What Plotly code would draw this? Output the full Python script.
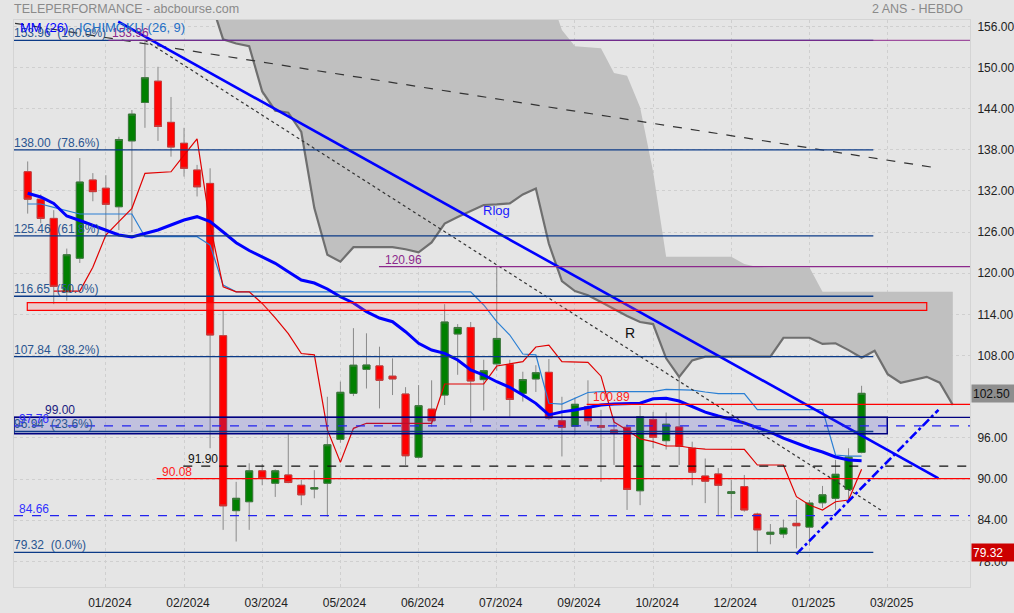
import plotly.graph_objects as go

# ---------------- data ----------------
candle_idx = list(range(65))
opens  = [134.8,130.8,128.0,117.3,122.2,133.6,132.4,129.7,139.3,144.9,148.0,142.0,138.95,135.05,133.1,110.9,
          85.4,86.7,91.2,89.4,90.6,89.1,88.55,89.4,95.8,102.5,106.0,106.5,105.0,102.4,93.2,100.2,
          102.25,111.15,112.1,104.5,106.8,106.7,102.5,104.6,105.56,98.5,97.7,100.56,97.8,97.15,97.55,88.3,
          98.7,95.6,97.6,94.5,90.45,90.75,87.9,88.9,84.9,81.95,82.0,83.55,83.0,86.55,87.2,88.5,93.9]
highs  = [136.3,131.5,129.2,123.6,136.8,134.6,134.3,139.9,143.8,153.96,150.1,145.7,141.2,135.8,135.3,114.5,
          89.6,92.3,92.2,91.4,96.7,89.9,91.3,102.0,104.2,112.0,111.25,109.3,107.6,103.4,103.7,104.4,
          115.5,112.6,112.9,107.4,120.96,107.4,105.65,106.6,107.5,102.0,101.9,104.4,100.1,99.1,98.0,100.65,
          99.8,99.7,104.7,95.45,93.0,91.6,89.9,90.6,85.1,83.45,84.1,86.95,86.95,89.0,92.8,94.5,103.6]
lows   = [128.7,127.3,115.5,116.0,121.5,130.5,125.3,126.3,126.0,141.2,139.3,137.0,134.1,131.2,94.5,82.6,
          80.9,82.6,89.1,87.4,89.4,86.2,87.2,84.5,95.3,102.1,103.2,100.3,102.25,92.05,93.0,97.6,
          100.8,105.2,98.2,100.0,105.8,99.1,101.3,102.7,98.6,93.3,96.4,97.8,89.6,92.05,85.5,86.2,
          94.5,94.3,92.05,89.1,86.5,84.6,84.3,85.25,79.32,80.5,81.4,79.9,80.3,85.8,85.5,86.95,93.75]
closes = [130.8,128.0,118.1,122.7,133.3,131.9,130.05,139.5,143.2,148.5,141.4,138.4,135.3,132.6,111.0,86.1,
          87.2,91.2,90.1,91.2,89.5,87.7,88.75,95.0,102.65,106.6,106.63,104.4,104.6,93.4,100.7,98.5,
          112.9,112.1,104.3,105.8,110.5,101.6,104.5,105.5,98.9,97.55,100.9,98.5,97.55,96.75,88.5,99.1,
          96.1,98.0,94.8,91.0,89.7,89.1,88.15,85.5,82.6,82.25,82.85,83.2,86.5,87.7,90.7,93.2,102.5]

mm26 = [131.66,131.12,130.17,128.35,127.69,126.96,126.23,125.58,125.29,125.83,126.31,127.04,127.76,128.25,
        127.52,126.02,124.46,123.32,122.37,121.45,120.23,119.02,118.58,117.71,116.58,115.67,114.40,113.48,
        112.94,111.48,109.79,108.81,108.33,107.36,105.90,105.17,104.19,103.38,102.25,101.04,99.35,99.80,
        100.06,100.42,100.80,100.94,101.00,101.06,101.70,101.77,101.38,100.58,99.77,99.19,98.68,98.17,
        97.51,96.86,95.98,95.26,94.53,93.95,93.22,92.78,92.68]

kijun = [130.1,130.1,129.6,129.1,128.64,128.64,128.64,128.64,128.64,125.33,125.33,125.33,125.33,125.33,
         124.12,118.27,117.3,117.3,117.3,117.3,117.3,117.3,117.3,117.3,117.3,117.3,117.3,117.3,117.3,
         117.3,117.3,117.3,117.3,117.3,117.3,115.38,112.94,111.0,108.23,108.1,101.05,100.94,101.8,102.62,
         102.74,102.74,102.74,102.74,102.74,103.09,103.09,102.98,102.69,102.47,102.47,102.47,100.14,100.14,
         100.14,100.14,100.14,100.14,93.51,93.36,93.36]

tenkan_idx = list(range(2, 65))
tenkan = [117.41,117.41,117.41,120.87,125.58,127.52,129.47,134.57,134.72,134.80,137.24,139.60,127.04,118.04,
          117.30,117.30,115.60,113.50,111.20,108.30,108.10,97.20,92.44,97.40,98.13,98.13,98.13,98.13,98.13,
          98.13,103.86,103.86,103.86,103.86,106.48,106.77,107.11,109.25,109.54,107.11,107.07,107.02,105.00,
          98.32,97.15,95.87,95.46,94.82,94.82,94.53,94.38,94.34,94.34,94.34,92.05,92.05,92.05,87.43,86.22,
          85.49,86.70,86.95,91.42]

cloud_idx = list(range(14, 72))
span_dark = [160.0,154.1,153.5,153.1,146.5,143.7,143.4,140.6,129.5,122.7,121.7,123.8,123.8,123.8,123.8,
             123.5,123.05,124.5,127.25,128.2,129.1,129.95,130.05,130.2,131.5,132.36,124.3,118.85,117.4,
             116.8,115.8,114.8,113.77,112.9,112.6,107.6,104.9,107.3,107.84,107.84,107.84,107.84,107.84,
             107.84,110.6,110.6,110.6,109.7,109.8,108.8,107.7,108.7,105.3,104.05,104.5,104.9,104.05,100.8]
span_light = [175.0]*26 + [161.0,155.45,153.1,153.0,152.8,149.2,148.8,144.2,134.8,122.4,122.4,122.4,
              122.4,122.4,122.4,121.35,120.9,120.85,120.85,120.85,120.85,117.3,117.3,117.3,117.3,117.3,
              117.3,117.3,117.3,117.3,117.3,117.3]

# trend lines (index, price)
rlog_x, rlog_y = [6.95, 69.9], [156.67, 90.11]
dotted_x, dotted_y = [9.0, 65.6], [153.96, 85.34]
longdash_x, longdash_y = [-0.97, 69.96], [156.44, 135.3]
support_x, support_y = [59.0, 69.9], [79.07, 100.1]

fib_vals = [153.96, 138.00, 125.46, 116.65, 107.84, 96.94, 79.32]
fib_pcts = ["100.0%", "78.6%", "61.8%", "50.0%", "38.2%", "23.6%", "0.0%"]

x_tickvals = [6, 12, 18, 24, 30, 36, 42, 48, 54, 60, 66]
x_ticktext = ["01/2024", "02/2024", "03/2024", "05/2024", "06/2024", "07/2024",
              "09/2024", "10/2024", "12/2024", "01/2025", "03/2025"]
y_tickvals = [78, 84, 90, 96, 108, 114, 120, 126, 132, 138, 144, 150, 156]

last_close = 102.50
period_low = 79.32

# ---------------- figure ----------------
XMIN, XMAX = -1.05, 72.32
YMIN, YMAX = 74.27, 156.92
FONT = "Liberation Sans, Arial, sans-serif"
BG = "#e5e5e5"

fig = go.Figure()

# Ichimoku cloud
fig.add_trace(go.Scatter(x=cloud_idx, y=span_light, mode="lines",
                         line=dict(width=0, color="#c0c0c0"), hoverinfo="skip"))
fig.add_trace(go.Scatter(x=cloud_idx, y=span_dark, mode="lines", fill="tonexty",
                         fillcolor="#c0c0c0", line=dict(width=2.2, color="#6f6f6f"),
                         hoverinfo="skip"))

# candles: wicks (gray) then bodies
fig.add_trace(go.Candlestick(
    x=candle_idx, open=opens, high=highs, low=lows, close=closes,
    increasing=dict(line=dict(color="#8a8a8a", width=1), fillcolor="#008000"),
    decreasing=dict(line=dict(color="#8a8a8a", width=1), fillcolor="#ff0000"),
    whiskerwidth=0, hoverinfo="skip"))
body_hi = [max(o, c) for o, c in zip(opens, closes)]
body_lo = [min(o, c) for o, c in zip(opens, closes)]
fig.add_trace(go.Candlestick(
    x=candle_idx, open=opens, high=body_hi, low=body_lo, close=closes,
    increasing=dict(line=dict(color="#3d7a3d", width=1), fillcolor="#008000"),
    decreasing=dict(line=dict(color="#cc3a3a", width=1), fillcolor="#ff0000"),
    whiskerwidth=0, hoverinfo="skip"))

# Ichimoku lines
fig.add_trace(go.Scatter(x=candle_idx, y=kijun, mode="lines",
                         line=dict(color="#2a7fd4", width=1.2), hoverinfo="skip"))
fig.add_trace(go.Scatter(x=tenkan_idx, y=tenkan, mode="lines",
                         line=dict(color="#e00000", width=1.2), hoverinfo="skip"))
# MM 26
fig.add_trace(go.Scatter(x=candle_idx, y=mm26, mode="lines",
                         line=dict(color="#0000ff", width=3), hoverinfo="skip"))

# trend lines
fig.add_trace(go.Scatter(x=longdash_x, y=longdash_y, mode="lines",
                         line=dict(color="#333333", width=1.2, dash="dash"), hoverinfo="skip"))
fig.add_trace(go.Scatter(x=dotted_x, y=dotted_y, mode="lines",
                         line=dict(color="#333333", width=1.2, dash="dot"), hoverinfo="skip"))
fig.add_trace(go.Scatter(x=rlog_x, y=rlog_y, mode="lines",
                         line=dict(color="#0000ff", width=2.6), hoverinfo="skip"))
fig.add_trace(go.Scatter(x=support_x, y=support_y, mode="lines",
                         line=dict(color="#0000ff", width=2.6, dash="dashdot"), hoverinfo="skip"))

shapes = []
def hline(y, x0, x1, color, width=1.2, dash="solid"):
    shapes.append(dict(type="line", xref="x", yref="y", x0=x0, x1=x1, y0=y, y1=y,
                       line=dict(color=color, width=width, dash=dash), layer="above"))

# zones
shapes.append(dict(type="rect", xref="x", yref="y", x0=XMIN, x1=65.97, y0=96.6, y1=99.0,
                   fillcolor="rgba(60,60,200,0.21)", line=dict(color="#000080", width=1.5), layer="above"))
shapes.append(dict(type="rect", xref="x", yref="y", x0=-0.03, x1=69.0, y0=114.6, y1=115.71,
                   fillcolor="rgba(255,120,120,0.22)", line=dict(color="#ff0000", width=1.2), layer="above"))

for v in fib_vals:
    hline(v, XMIN, 64.9, "#0b3a87", 1.3)
hline(153.96, 6.2, XMAX, "#8c288c", 1.0)
hline(120.96, 26.96, XMAX, "#8c288c", 1.2)
hline(99.00, XMIN, XMAX, "#000080", 1.3)
hline(97.76, XMIN, XMAX, "#2222ee", 1.3, "dash")
hline(84.66, XMIN, XMAX, "#2222ee", 1.3, "dash")
hline(91.90, 11.94, XMAX, "#111111", 1.3, "dash")
hline(100.89, 42.9, XMAX, "#ff0000", 1.3)
hline(90.08, 9.9, XMAX, "#ff0000", 1.3)

anns = []
def label(x, y, text, color, size=12, xref="x", yref="y", xanchor="left", yanchor="middle",
          yshift=7, xshift=-2, **kw):
    anns.append(dict(x=x, y=y, xref=xref, yref=yref, text=text, showarrow=False,
                     xanchor=xanchor, yanchor=yanchor, yshift=yshift, xshift=xshift,
                     font=dict(family=FONT, size=size, color=color), **kw))

for v, p in zip(fib_vals, fib_pcts):
    label(0, v, f"{v:.2f}\u00a0 ({p})", "#2a5590", xref="paper")
label(0.0055, 97.76, "97.76", "#3030ff", xref="paper")
label(0.0324, 99.00, "99.00", "#1a1a80", xref="paper")
label(0.0055, 84.66, "84.66", "#3030ff", xref="paper")
label(12.3, 91.90, "91.90", "#111111")
label(10.33, 90.08, "90.08", "#ff2020")
label(43.4, 100.89, "100.89", "#ff2020")
label(27.4, 120.96, "120.96", "#8c288c")
label(6.45, 153.96, "153.96", "#8c288c")
label(36.0, 129.08, "Rlog", "#1a1aff", size=13, xanchor="center", yshift=0, xshift=0)
label(46.2, 111.3, "R", "#111111", size=14, xanchor="center", yshift=0, xshift=0)

# header texts
label(0, 1.0194, "TELEPERFORMANCE - abcbourse.com", "#8a8a8a", size=12.5,
      xref="paper", yref="paper", yshift=0)
label(0.9948, 1.0194, "2 ANS - HEBDO", "#8a8a8a", size=12.5,
      xref="paper", yref="paper", xanchor="right", yshift=0, xshift=0)
label(0.0063, 0.9859, "MM (26)", "#0000ff", size=13, xref="paper", yref="paper", yshift=0)
label(0.068, 0.9859, "ICHIMOKU (26, 9)", "#1f6fc5", size=13, xref="paper", yref="paper", yshift=0)

# price boxes on the right axis
anns.append(dict(x=1, y=last_close, xref="paper", yref="y", text=f"{last_close:.2f}",
                 showarrow=False, xanchor="left", yanchor="middle", xshift=1,
                 bgcolor="#8e8e8e", width=40, height=15, align="left", borderpad=1,
                 font=dict(family=FONT, size=12, color="#111111")))
anns.append(dict(x=1, y=period_low, xref="paper", yref="y", text=f"{period_low:.2f}",
                 showarrow=False, xanchor="left", yanchor="middle", xshift=1,
                 bgcolor="#cc0000", width=40, height=15, align="left", borderpad=1,
                 font=dict(family=FONT, size=12, color="#ffffff")))

fig.update_layout(
    width=1014, height=613,
    margin=dict(l=14, r=44, t=20, b=26, autoexpand=False),
    paper_bgcolor=BG, plot_bgcolor=BG,
    showlegend=False, boxgap=0.23,
    font=dict(family=FONT, size=12, color="#222222"),
    shapes=shapes, annotations=anns,
    xaxis=dict(range=[XMIN, XMAX], tickvals=x_tickvals, ticktext=x_ticktext, automargin=False,
               showgrid=True, gridcolor="#cfcfcf", griddash="dot", gridwidth=1,
               zeroline=False, showline=True, mirror=True, linecolor="#d4d4d4",
               ticks="outside", ticklen=5, tickcolor="rgba(0,0,0,0)", ticklabelshift=4,
               tickfont=dict(size=12, color="#222222"), rangeslider=dict(visible=False),
               fixedrange=True),
    yaxis=dict(range=[YMIN, YMAX], side="right", tickvals=y_tickvals, tickformat=".2f",
               automargin=False,
               showgrid=True, gridcolor="#cfcfcf", griddash="dot", gridwidth=1,
               zeroline=False, showline=True, mirror=True, linecolor="#d4d4d4",
               ticks="outside", ticklen=4, tickcolor="rgba(0,0,0,0)",
               tickfont=dict(size=12, color="#222222"), fixedrange=True),
)

fig.write_html("out.html", config=dict(displayModeBar=False),
               post_script="document.body.style.margin='0px';"
                           "document.body.style.overflow='hidden';"
                           "document.body.style.background='" + BG + "';")
